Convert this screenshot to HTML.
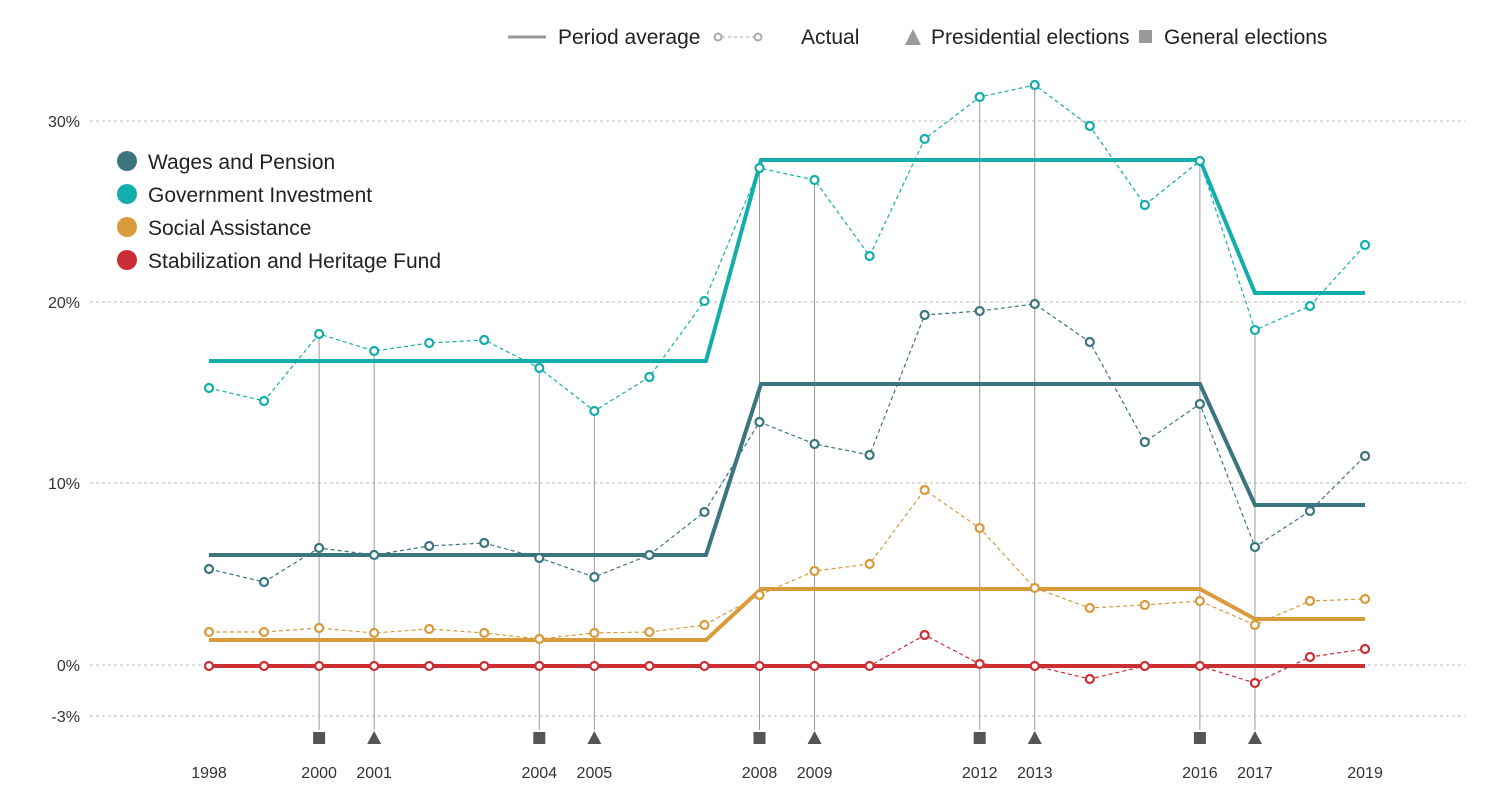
<!DOCTYPE html><html><head><style>body{margin:0;background:#fff}svg{display:block;font-family:"Liberation Sans",sans-serif}</style></head><body>
<svg id="s" width="1500" height="801" xmlns="http://www.w3.org/2000/svg">
<g stroke="#bbb" stroke-dasharray="3,3" stroke-width="1">
<line x1="90" x2="1465" y1="121" y2="121"/><line x1="90" x2="1465" y1="302" y2="302"/><line x1="90" x2="1465" y1="483" y2="483"/><line x1="90" x2="1465" y1="665" y2="665"/><line x1="90" x2="1465" y1="716" y2="716"/></g>
<g font-size="16" fill="#333" text-anchor="end"><text x="80" y="127">30%</text><text x="80" y="308">20%</text><text x="80" y="489">10%</text><text x="80" y="671">0%</text><text x="80" y="722">-3%</text></g>
<g font-size="21" fill="#222">
<line x1="508" x2="546" y1="37" y2="37" stroke="#999" stroke-width="3"/><text x="558" y="44">Period average</text>
<circle cx="718" cy="37" r="3.5" fill="#fff" stroke="#aaa" stroke-width="2"/><line x1="722" x2="754" y1="37" y2="37" stroke="#aaa" stroke-dasharray="3,3"/><circle cx="758" cy="37" r="3.5" fill="#fff" stroke="#aaa" stroke-width="2"/><text x="801" y="44">Actual</text>
<polygon points="913,29 905,45 921,45" fill="#999"/><text x="931" y="44">Presidential elections</text>
<rect x="1139" y="30" width="13" height="13" fill="#999"/><text x="1164" y="44">General elections</text>
<circle cx="127" cy="161" r="10" fill="#3a7580"/><text x="148" y="169">Wages and Pension</text>
<circle cx="127" cy="194" r="10" fill="#13aeac"/><text x="148" y="202">Government Investment</text>
<circle cx="127" cy="227" r="10" fill="#d99a3c"/><text x="148" y="235">Social Assistance</text>
<circle cx="127" cy="260" r="10" fill="#cc2f33"/><text x="148" y="268">Stabilization and Heritage Fund</text>
</g>
<g id="g"></g>
</svg>
<script>
var X=i=>209+55.05*i,g=document.getElementById('g'),ns='http://www.w3.org/2000/svg',h='';
var el={2:334,3:351,6:368,7:411,10:168,11:180,14:97,15:85,18:161,19:330};
for(var k in el){h+=`<line x1="${X(+k)}" x2="${X(+k)}" y1="${el[k]}" y2="730" stroke="#999" stroke-width="1"/>`;}
[2,6,10,14,18].forEach(i=>h+=`<rect x="${X(i)-6}" y="732" width="12" height="12" fill="#555"/>`);
[3,7,11,15,19].forEach(i=>h+=`<polygon points="${X(i)},731 ${X(i)-7},744 ${X(i)+7},744" fill="#555"/>`);
var yrs={0:1998,2:2000,3:2001,6:2004,7:2005,10:2008,11:2009,14:2012,15:2013,18:2016,19:2017,21:2019};
for(var k in yrs)h+=`<text x="${X(+k)}" y="778" font-size="16" fill="#333" text-anchor="middle">${yrs[k]}</text>`;
var S=[
['#13aeac',[388,401,334,351,343,340,368,411,377,301,168,180,256,139,97,85,126,205,161,330,306,245],[361,160,293]],
['#3a7580',[569,582,548,555,546,543,558,577,555,512,422,444,455,315,311,304,342,442,404,547,511,456],[555,384,505]],
['#d99a3c',[632,632,628,633,629,633,639,633,632,625,595,571,564,490,528,588,608,605,601,625,601,599],[640,589,619]],
['#cc2f33',[666,666,666,666,666,666,666,666,666,666,666,666,666,635,664,666,679,666,666,683,657,649],[666,666,666]]];
S.forEach(s=>{var c=s[0],a=s[2];
h+=`<polyline fill="none" stroke="${c}" stroke-width="4" points="209,${a[0]} 706,${a[0]} 761,${a[1]} 1200,${a[1]} 1255,${a[2]} 1365,${a[2]}"/>`;
h+=`<polyline fill="none" stroke="${c}" stroke-width="1.2" stroke-dasharray="4,3" points="${s[1].map((y,i)=>X(i)+','+y).join(' ')}"/>`;
s[1].forEach((y,i)=>h+=`<circle cx="${X(i)}" cy="${y}" r="4" fill="#fff" stroke="${c}" stroke-width="2.2"/>`);});
g.innerHTML=h;
</script>
</body></html>
